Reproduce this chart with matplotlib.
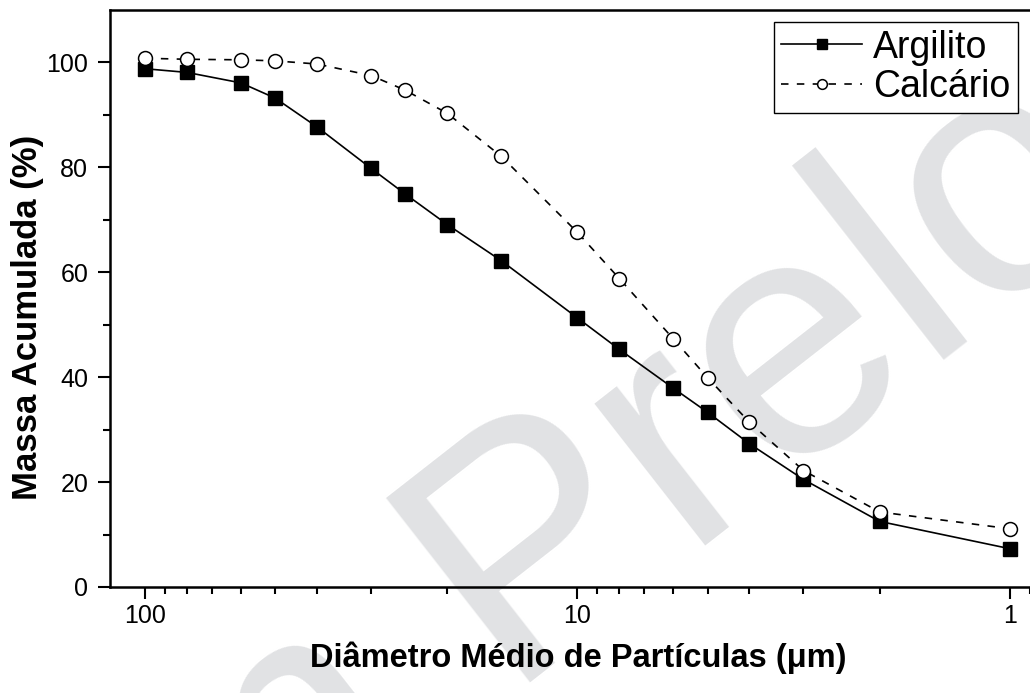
import numpy as np
import matplotlib
matplotlib.use("Agg")
import matplotlib.pyplot as plt

# diametro medio das particulas (um) e massa acumulada (%)
diametro = [100, 80, 60, 50, 40, 30, 25, 20, 15, 10, 8, 6, 5, 4, 3, 2, 1]
argilito = [98.8, 98.1, 96.1, 93.2, 87.7, 79.8, 74.9, 69.1, 62.2, 51.3, 45.3, 37.9, 33.3, 27.3, 20.5, 12.5, 7.3]
calcario = [100.8, 100.6, 100.5, 100.3, 99.7, 97.5, 94.7, 90.3, 82.1, 67.6, 58.8, 47.3, 39.9, 31.4, 22.2, 14.3, 11.1]

yticks = [0, 20, 40, 60, 80, 100]
xticks = [100, 10, 1]
xtick_labels = ["100", "10", "1"]

plt.rcParams['font.family'] = ['Liberation Sans', 'DejaVu Sans']

fig = plt.figure(figsize=(10.30, 6.93), dpi=100)
ax = fig.add_axes([0.1068, 0.153, 0.9032, 0.8326])
ax.set_facecolor('none')

# marca d'agua por tras do grafico
fig.text(0.031, -0.547, "Em Prelo", transform=fig.transFigure, fontsize=245,
         color='#e1e2e4', rotation=38, rotation_mode='anchor',
         ha='left', va='baseline', zorder=-1)

ax.plot(diametro, argilito, color='black', lw=1.2, marker='s', ms=10,
        mfc='black', mec='black', label='Argilito', zorder=3)
ax.plot(diametro, calcario, color='black', lw=1.2, ls=(0, (4.5, 5)), marker='o', ms=10,
        mfc='white', mec='black', mew=1.1, label='Calcário', zorder=3)

ax.set_xscale('log')
ax.set_xlim(120.5, 0.85)
ax.set_ylim(0, 110)
ax.set_xticks(xticks)
ax.set_xticklabels(xtick_labels)
ax.set_yticks(yticks)
ax.set_yticks(np.arange(10, 110, 20), minor=True)

for s in ['left', 'bottom', 'top']:
    ax.spines[s].set_linewidth(1.8)
ax.spines['right'].set_visible(False)

ax.tick_params(which='major', direction='out', length=8.6, width=1.5, labelsize=18)
ax.tick_params(which='minor', direction='out', length=4.7, width=1.5)
ax.tick_params(axis='x', which='both', top=False, pad=4)
ax.tick_params(axis='y', which='major', pad=7)

ax.set_xlabel('Diâmetro Médio de Partículas (μm)', fontsize=23.5, fontweight='bold')
ax.set_ylabel('Massa Acumulada (%)', fontsize=25, fontweight='bold')
ax.xaxis.set_label_coords((578 - 110) / 930, -0.095)
ax.yaxis.set_label_coords(-0.071, 0.468)

leg = ax.legend(loc='upper right', bbox_to_anchor=(1018 / 1030, (693 - 22) / 693),
                bbox_transform=fig.transFigure, borderaxespad=0, fontsize=27,
                frameon=True, fancybox=False, edgecolor='black', markerscale=0.7,
                handlelength=2.15, handletextpad=0.3, labelspacing=0.1, borderpad=0.2)
leg.get_frame().set_linewidth(1.0)
leg.get_frame().set_facecolor('white')
leg.get_frame().set_alpha(1)

fig.savefig('out.png', dpi=100)
